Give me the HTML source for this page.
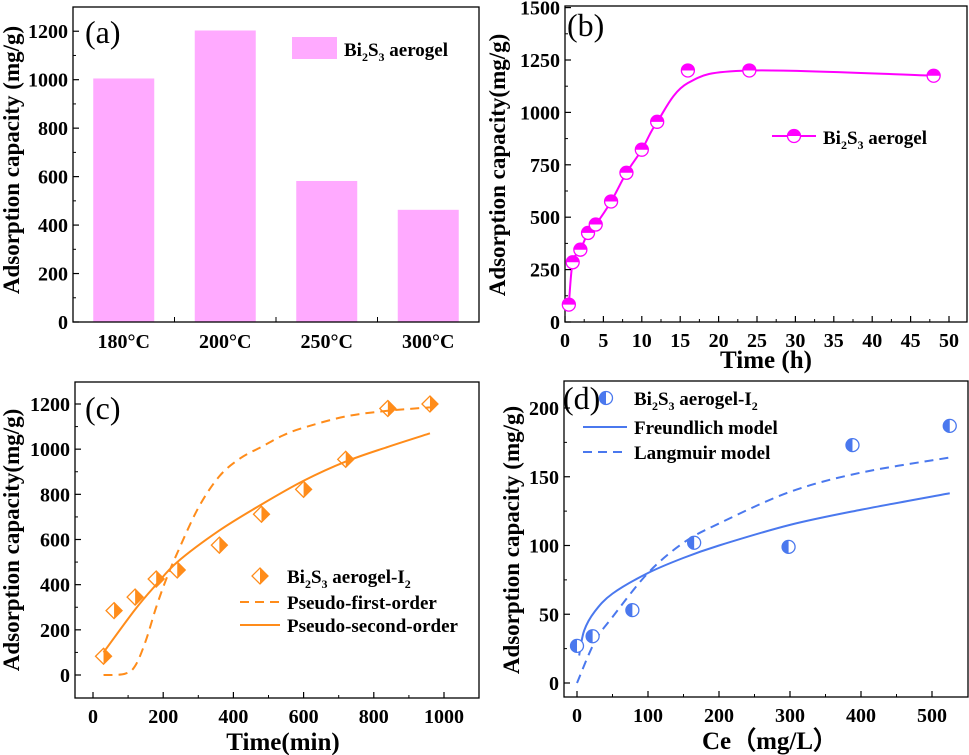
<!DOCTYPE html>
<html><head><meta charset="utf-8"><style>
body{margin:0;background:#fff}
svg{display:block;font-family:"Liberation Serif",serif}
</style></head><body>
<svg id="fig" width="969" height="755" viewBox="0 0 969 755" xmlns="http://www.w3.org/2000/svg"></svg>
<script>
// ---- data ----
const aCats = ["180°C","200°C","250°C","300°C"];
const aVals = [1005,1203,582,463];
const aTicks = [0,200,400,600,800,1000,1200];

const bX = [0.5,1,2,3,4,6,8,10,12,16,24,48];
const bY = [83,285,345,425,465,575,712,822,955,1200,1200,1175];
const bLineY = [83,285,345,425,465,575,712,822,955,1140,1200,1175];
const bXTicks = [0,5,10,15,20,25,30,35,40,45,50];
const bYTicks = [0,250,500,750,1000,1250,1500];

const cX = [30,60,120,180,240,360,480,600,720,840,960];
const cY = [83,285,345,425,465,575,712,822,955,1180,1200];
const cPfoX = [30,90,120,150,180,210,240,300,360,420,480,540,600,720,840,960];
const cPfoY = [0,5,40,150,300,430,540,740,880,960,1010,1060,1095,1145,1170,1185];
const cPsoX = [30,120,180,240,360,480,600,720,840,960];
const cPsoY = [100,290,400,500,640,755,860,945,1010,1070];
const cXTicks = [0,200,400,600,800,1000];
const cYTicks = [0,200,400,600,800,1000,1200];

const dX = [0,22,78,165,298,388,525];
const dY = [27,34,53,102,99,173,187];
const dFrX = [3,10,25,50,100,150,200,300,400,525];
const dFrY = [20,38,52,65,80,91,100,115,126,138];
const dLaX = [0,25,50,100,150,200,300,400,525];
const dLaY = [0,30,48,80,102,116,139,153,164];
const dXTicks = [0,100,200,300,400,500];
const dYTicks = [0,50,100,150,200];

const svg = document.getElementById('fig');
const NS = "http://www.w3.org/2000/svg";
const TF = 20, LF = 19;
function mk(tag, attrs, name, inter, parent){
  const el = document.createElementNS(NS, tag);
  for (const k in attrs) el.setAttribute(k, attrs[k]);
  
  
  (parent || svg).appendChild(el);
  return el;
}
function txt(s, x, y, opts, name){
  const a = Object.assign({x:x, y:y, 'font-size':TF, 'font-weight':'bold', fill:'#000'}, opts||{});
  const t = mk('text', a, name, false);
  t.innerHTML = s;
  return t;
}
function lin(d0,d1,r0,r1){ return v => r0 + (v-d0)/(d1-d0)*(r1-r0); }
function smooth(xs, ys, sx, sy){
  const p = xs.map((x,i)=>[sx(x), sy(ys[i])]);
  let d = "M"+p[0][0]+","+p[0][1];
  for (let i=0;i<p.length-1;i++){
    const p0=p[Math.max(0,i-1)], p1=p[i], p2=p[i+1], p3=p[Math.min(p.length-1,i+2)];
    const c1=[p1[0]+(p2[0]-p0[0])/6, p1[1]+(p2[1]-p0[1])/6];
    const c2=[p2[0]-(p3[0]-p1[0])/6, p2[1]-(p3[1]-p1[1])/6];
    d += " C"+c1[0]+","+c1[1]+" "+c2[0]+","+c2[1]+" "+p2[0]+","+p2[1];
  }
  return d;
}
function box(l,t,r,b,name){
  mk('rect',{x:l,y:t,width:r-l,height:b-t,fill:'none',stroke:'#000','stroke-width':1.3},name,false);
}
function yAxis(ticks, sy, l, r, label, lx, cy, minor){
  ticks.forEach(v=>{
    const y = sy(v);
    mk('line',{x1:l,y1:y,x2:l+6,y2:y,stroke:'#000','stroke-width':1.2},'y-tick',false);
    txt(v, l-5, y+7, {'text-anchor':'end'}, 'y-tick-label');
  });
  if (minor) for (let i=0;i<ticks.length-1;i++){
    const y = sy((ticks[i]+ticks[i+1])/2);
    mk('line',{x1:l,y1:y,x2:l+3,y2:y,stroke:'#000','stroke-width':1},'y-minor-tick',false);
  }
  txt(label, lx, cy, {'text-anchor':'middle','font-size':23,transform:'rotate(-90 '+lx+' '+cy+')'}, 'y-axis-title');
}
function xAxis(ticks, sx, b, label, cx, ly){
  ticks.forEach(v=>{
    const x = sx(v);
    mk('line',{x1:x,y1:b,x2:x,y2:b-6,stroke:'#000','stroke-width':1.2},'x-tick',false);
    txt(v, x, b+25, {'text-anchor':'middle'}, 'x-tick-label');
  });
  for (let i=0;i<ticks.length-1;i++){
    const x = sx((ticks[i]+ticks[i+1])/2);
    mk('line',{x1:x,y1:b,x2:x,y2:b-3,stroke:'#000','stroke-width':1},'x-minor-tick',false);
  }
  txt(label, cx, ly, {'text-anchor':'middle','font-size':25}, 'x-axis-title');
}
const BIS = 'Bi<tspan font-size="12" dy="5">2</tspan><tspan dy="-5">S</tspan><tspan font-size="12" dy="5">3</tspan><tspan dy="-5">';

// ---- panel a ----
(function(){
  const L=73,R=479,T=7,B=322;
  const sy = lin(0,1300,B,T);
  const slot = (R-L)/aCats.length;
  aVals.forEach((v,i)=>{
    const cx = L + slot*(i+0.5);
    mk('rect',{x:cx-30.5,y:sy(v),width:61,height:B-sy(v),fill:'#ffaaff'},'bar-'+aCats[i].replace('°C','c'),true);
    txt(aCats[i], cx, B+26, {'text-anchor':'middle'}, 'x-tick-label');
    if (i>0) mk('line',{x1:L+slot*i,y1:B,x2:L+slot*i,y2:B-5,stroke:'#000'},'x-tick',false);
  });
  box(L,T,R,B,'panel-a-frame');
  yAxis(aTicks, sy, L, R, 'Adsorption capacity (mg/g)', 19, 160, true);
  txt('(a)', 85, 43, {'font-weight':'normal','font-size':32}, 'panel-a-label');
  mk('rect',{x:292,y:37,width:45,height:22,fill:'#ffaaff'},'legend-swatch',false);
  txt(BIS+' aerogel</tspan>', 344, 56, {'font-size':LF}, 'legend-label');
})();

// ---- panel b ----
function hexMark(x,y,color,name){
  const g = mk('g',{},name,true);
  mk('circle',{cx:x,cy:y,r:6.5,fill:'#fff',stroke:color,'stroke-width':1.3},'marker-outline',false,g);
  mk('path',{d:'M'+(x-6.5)+','+y+' A6.5,6.5 0 0 1 '+(x+6.5)+','+y+' Z',fill:color},'marker-fill',false,g);
}
(function(){
  const L=565,R=967,T=6,B=322;
  const sx = lin(0,50,565,949), sy = lin(0,1250,B,60);
  box(L,T,R,B,'panel-b-frame');
  mk('path',{d:smooth(bX,bLineY,sx,sy),fill:'none',stroke:'#ff00ff','stroke-width':2},'capacity-line',false);
  bX.forEach((x,i)=>hexMark(sx(x),sy(bY[i]),'#ff00ff','data-point'));
  yAxis(bYTicks, sy, L, R, 'Adsorption capacity(mg/g)', 505, 165, true);
  xAxis(bXTicks, sx, B, 'Time (h)', 766, 368);
  txt('(b)', 567, 36, {'font-weight':'normal','font-size':32}, 'panel-b-label');
  mk('line',{x1:772,y1:136,x2:816,y2:136,stroke:'#ff00ff','stroke-width':2},'legend-line',false);
  hexMark(794,136,'#ff00ff','legend-marker');
  txt(BIS+' aerogel</tspan>', 823, 144, {'font-size':LF}, 'legend-label');
})();

// ---- panel c ----
function diaMark(x,y,color,name){
  const g = mk('g',{},name,true);
  const r=8;
  mk('path',{d:'M'+x+','+(y-r)+' L'+(x+r)+','+y+' L'+x+','+(y+r)+' Z',fill:color},'marker-fill',false,g);
  mk('path',{d:'M'+x+','+(y-r)+' L'+(x+r)+','+y+' L'+x+','+(y+r)+' L'+(x-r)+','+y+' Z',fill:'none',stroke:color,'stroke-width':1.3},'marker-outline',false,g);
}
(function(){
  const L=75,R=479,T=382,B=698;
  const sx = lin(0,1000,93,444), sy = lin(0,1200,675,404);
  box(L,T,R,B,'panel-c-frame');
  mk('path',{d:smooth(cPfoX,cPfoY,sx,sy),fill:'none',stroke:'#ff8c1a','stroke-width':2,'stroke-dasharray':'9,6'},'pseudo-first-order-curve',false);
  mk('path',{d:smooth(cPsoX,cPsoY,sx,sy),fill:'none',stroke:'#ff8c1a','stroke-width':2},'pseudo-second-order-curve',false);
  cX.forEach((x,i)=>diaMark(sx(x),sy(cY[i]),'#ff8c1a','data-point'));
  yAxis(cYTicks, sy, L, R, 'Adsorption capacity(mg/g)', 19, 540, true);
  xAxis(cXTicks, sx, B, 'Time(min)', 283, 750);
  txt('(c)', 85, 419, {'font-weight':'normal','font-size':32}, 'panel-c-label');
  diaMark(260,576,'#ff8c1a','legend-marker');
  txt(BIS+' aerogel-I</tspan><tspan font-size="12" dy="5">2</tspan>', 287, 583, {'font-size':LF}, 'legend-label');
  mk('line',{x1:240,y1:602,x2:280,y2:602,stroke:'#ff8c1a','stroke-width':2,'stroke-dasharray':'9,6'},'legend-line',false);
  txt('Pseudo-first-order', 287, 609, {'font-size':LF}, 'legend-label');
  mk('line',{x1:240,y1:625,x2:280,y2:625,stroke:'#ff8c1a','stroke-width':2},'legend-line',false);
  txt('Pseudo-second-order', 287, 632, {'font-size':LF}, 'legend-label');
})();

// ---- panel d ----
function halfCirc(x,y,color,name){
  const g = mk('g',{},name,true);
  mk('circle',{cx:x,cy:y,r:6.5,fill:'#fff',stroke:color,'stroke-width':1.3},'marker-outline',false,g);
  mk('path',{d:'M'+x+','+(y-6.5)+' A6.5,6.5 0 0 0 '+x+','+(y+6.5)+' Z',fill:color},'marker-fill',false,g);
}
(function(){
  const L=564,R=968,T=381,B=697;
  const sx = lin(0,500,577,932), sy = lin(0,200,683,408);
  box(L,T,R,B,'panel-d-frame');
  mk('path',{d:smooth(dFrX,dFrY,sx,sy),fill:'none',stroke:'#4a78ee','stroke-width':2},'freundlich-curve',false);
  mk('path',{d:smooth(dLaX,dLaY,sx,sy),fill:'none',stroke:'#4a78ee','stroke-width':2,'stroke-dasharray':'9,6'},'langmuir-curve',false);
  dX.forEach((x,i)=>halfCirc(sx(x),sy(dY[i]),'#4a78ee','data-point'));
  yAxis(dYTicks, sy, L, R, 'Adsorption capacity (mg/g)', 519, 540, true);
  xAxis(dXTicks, sx, B, 'Ce（mg/L）', 770, 749);
  txt('(d)', 563, 409, {'font-weight':'normal','font-size':32}, 'panel-d-label');
  halfCirc(606,398,'#4a78ee','legend-marker');
  txt(BIS+' aerogel-I</tspan><tspan font-size="12" dy="5">2</tspan>', 634, 405, {'font-size':LF}, 'legend-label');
  mk('line',{x1:583,y1:427,x2:627,y2:427,stroke:'#4a78ee','stroke-width':2},'legend-line',false);
  txt('Freundlich model', 634, 434, {'font-size':LF}, 'legend-label');
  mk('line',{x1:583,y1:452,x2:627,y2:452,stroke:'#4a78ee','stroke-width':2,'stroke-dasharray':'9,6'},'legend-line',false);
  txt('Langmuir model', 634, 459, {'font-size':LF}, 'legend-label');
})();
</script>
</body></html>
